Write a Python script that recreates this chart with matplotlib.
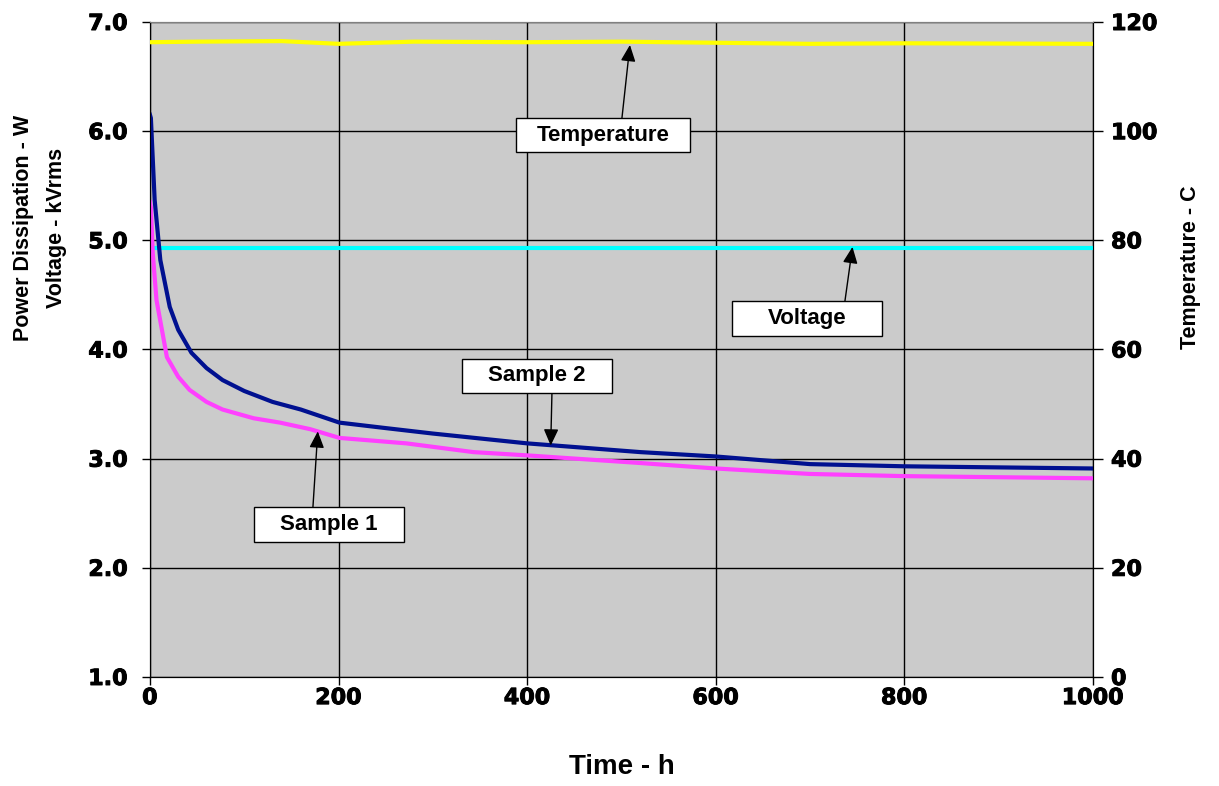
import matplotlib

matplotlib.use("Agg")
import matplotlib.pyplot as plt
import matplotlib.patheffects as pe
from matplotlib.font_manager import FontProperties
from matplotlib.patches import Rectangle

# data
time_s2 = [0, 1, 5, 11, 21, 30, 44, 60, 77, 100, 130, 160, 201, 250, 300, 400, 520, 600, 700, 800, 900, 1000]
power_s2 = [6.15, 6.12, 5.37, 4.82, 4.39, 4.18, 3.97, 3.83, 3.72, 3.62, 3.52, 3.45, 3.33, 3.28, 3.23, 3.14, 3.06, 3.02, 2.95, 2.93, 2.92, 2.91]

time_s1 = [0, 1, 3, 7, 18, 30, 42, 60, 77, 110, 138, 170, 201, 272, 343, 400, 520, 600, 700, 800, 900, 1000]
power_s1 = [5.35, 5.30, 4.88, 4.45, 3.93, 3.75, 3.63, 3.52, 3.45, 3.37, 3.33, 3.27, 3.19, 3.14, 3.06, 3.03, 2.96, 2.91, 2.86, 2.84, 2.83, 2.82]

time_v = [0, 1000]
voltage = [4.93, 4.93]

time_t = [0, 50, 140, 200, 280, 400, 500, 600, 700, 800, 1000]
temperature = [116.3, 116.4, 116.5, 116.0, 116.4, 116.3, 116.4, 116.2, 116.0, 116.1, 116.0]

x_ticks = [0, 200, 400, 600, 800, 1000]
y_ticks = [1.0, 2.0, 3.0, 4.0, 5.0, 6.0, 7.0]
t_ticks = [0, 20, 40, 60, 80, 100, 120]

BG = "#cbcbcb"
TICK_FONT = {"family": "DejaVu Sans", "weight": "bold", "size": 16}
LABEL_PROP = FontProperties(family="Liberation Sans", weight="bold", size=15.5)
HEAVY = [pe.withStroke(linewidth=0.7, foreground="black")]

fig = plt.figure(figsize=(12.19, 7.86), dpi=100)
ax = fig.add_axes([0.123, 0.1387, 0.7736, 0.8333])
ax.set_facecolor(BG)
ax2 = ax.twinx()

ax.set_xlim(0, 1000)
ax.set_ylim(1.0, 7.0)
ax2.set_ylim(0, 120)

ax.grid(True, color="black", linewidth=1.0)
ax.set_axisbelow(True)

ax.plot(time_v, voltage, color="#00ffff", linewidth=3.0, zorder=3)
ax.plot(time_s1, power_s1, color="#ff40ff", linewidth=3.0, zorder=4)
ax.plot(time_s2, power_s2, color="#001090", linewidth=3.0, zorder=5)
ax2.plot(time_t, temperature, color="#ffff00", linewidth=3.0, zorder=3)

ax.set_xticks(x_ticks)
ax.set_xticklabels([str(v) for v in x_ticks], fontdict=TICK_FONT)
ax.set_yticks(y_ticks)
ax.set_yticklabels([f"{v:.1f}" for v in y_ticks], fontdict=TICK_FONT)
ax2.set_yticks(t_ticks)
ax2.set_yticklabels([str(v) for v in t_ticks], fontdict=TICK_FONT)
for lbl in ax.get_xticklabels() + ax.get_yticklabels() + ax2.get_yticklabels():
    lbl.set_path_effects(HEAVY)
ax.tick_params(axis="y", direction="out", length=6, width=1, pad=10)
ax.tick_params(axis="x", direction="out", length=6, width=1, pad=2)
ax2.tick_params(axis="y", direction="out", length=7, width=1, pad=6)

ax.spines["top"].set_color("#808080")
for side in ("left", "bottom"):
    ax.spines[side].set_color("black")
ax2.spines["top"].set_color("#808080")
ax2.spines["right"].set_color("black")

ax.set_xlabel("Time - h", fontproperties=FontProperties(family="Liberation Sans", weight="bold", size=20))
ax.xaxis.set_label_coords((622 - 150) / 943.0, -(767 - 677) / 655.0)
ax.xaxis.label.set_verticalalignment("center")

ax.set_ylabel("Power Dissipation - W\nVoltage - kVrms", fontproperties=LABEL_PROP, linespacing=1.7)
ax.yaxis.set_label_coords((40 - 150) / 943.0, (677 - 228) / 655.0)
ax.yaxis.label.set_verticalalignment("center")

ax2.set_ylabel("Temperature - C", fontproperties=LABEL_PROP)
ax2.yaxis.set_label_coords((1191 - 150) / 943.0, (677 - 267) / 655.0)
ax2.yaxis.label.set_verticalalignment("center")


def label_box(text, box, tip_data, tail_frac):
    # box: (x0, y0, w, h) in axes fraction; tip_data: arrow tip in data coords
    x0, y0, w, h = box
    ax.add_patch(Rectangle((x0, y0), w, h, transform=ax.transAxes, facecolor="white",
                           edgecolor="black", linewidth=1.0, zorder=8, clip_on=False))
    ax.text(x0 + w / 2, y0 + h / 2, text, transform=ax.transAxes, ha="center", va="center",
            fontsize=16, fontweight="bold", family="Liberation Sans", zorder=9)
    ax.annotate("", xy=tip_data, xycoords="data", xytext=tail_frac, textcoords="axes fraction",
                arrowprops=dict(arrowstyle="-|>,head_length=1.0,head_width=0.45", color="black",
                                linewidth=1.0, shrinkA=0, shrinkB=0), zorder=7)


W = 943.0
H = 655.0
label_box("Temperature", ((516 - 150) / W, (677 - 152) / H, 174 / W, 34 / H), (509, 6.79), ((622 - 150) / W, (677 - 118) / H))
label_box("Voltage", ((732 - 150) / W, (677 - 336) / H, 150 / W, 35 / H), (745, 4.94), ((845 - 150) / W, (677 - 301) / H))
label_box("Sample 2", ((462 - 150) / W, (677 - 393) / H, 150 / W, 34 / H), (425, 3.12), ((552 - 150) / W, (677 - 393) / H))
label_box("Sample 1", ((254 - 150) / W, (677 - 542) / H, 150 / W, 35 / H), (178, 3.25), ((313 - 150) / W, (677 - 507) / H))

fig.savefig("out.png", dpi=100, facecolor="white")
